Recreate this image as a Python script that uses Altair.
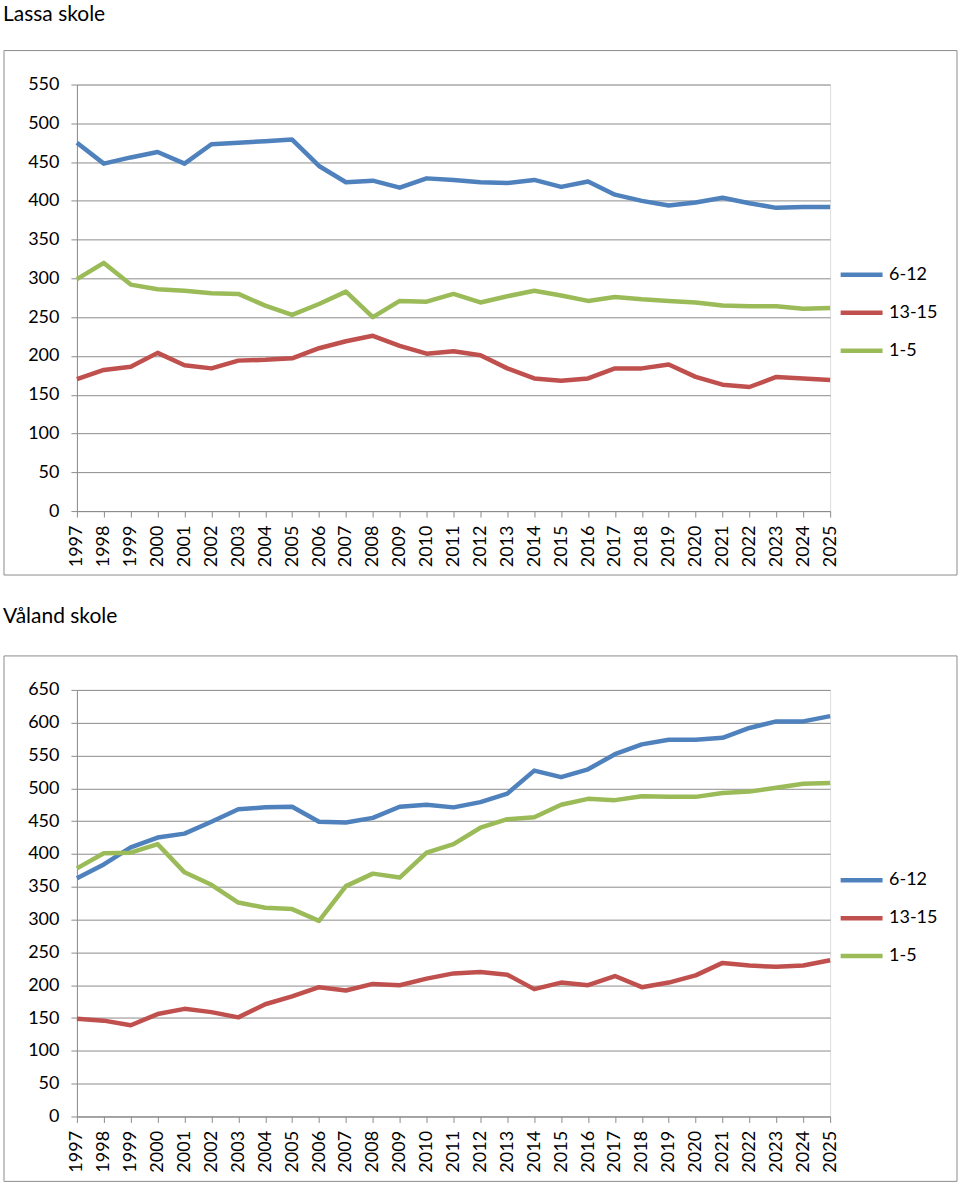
import altair as alt
import pandas as pd

years = list(range(1997, 2026))
series_names = ["6-12", "13-15", "1-5"]
colors = ["#4F81BD", "#C0504D", "#9BBB59"]

lassa_6_12 = [475, 448, 456, 463, 448, 473, 475, 477, 479, 445, 424, 426, 417, 429, 427, 424, 423, 427, 418, 425,
              408, 400, 394, 398, 404, 397, 391, 392, 392]
lassa_13_15 = [170, 182, 186, 204, 188, 184, 194, 195, 197, 210, 219, 226, 213, 203, 206, 201, 184, 171, 168, 171,
               184, 184, 189, 173, 163, 160, 173, 171, 169]
lassa_1_5 = [299, 320, 292, 286, 284, 281, 280, 265, 253, 267, 283, 250, 271, 270, 280, 269, 277, 284, 278, 271,
             276, 273, 271, 269, 265, 264, 264, 261, 262]

valand_6_12 = [363, 384, 410, 425, 431, 449, 468, 471, 472, 449, 448, 455, 472, 475, 471, 479, 492, 527, 517, 529,
               552, 567, 574, 574, 577, 592, 602, 602, 610]
valand_13_15 = [149, 146, 139, 156, 164, 159, 151, 171, 183, 197, 192, 202, 200, 210, 218, 220, 216, 194, 204, 200,
                214, 197, 204, 215, 234, 230, 228, 230, 238]
valand_1_5 = [378, 401, 402, 415, 372, 353, 326, 318, 316, 298, 351, 370, 364, 402, 415, 440, 453, 456, 475, 484,
              482, 488, 487, 487, 493, 495, 501, 507, 508]

FONT = "Lato"
GRID = "#8C8C8C"


def long_frame(s1, s2, s3):
    rows = []
    for name, vals in zip(series_names, [s1, s2, s3]):
        for y, v in zip(years, vals):
            rows.append({"year": str(y), "value": v, "series": name})
    return pd.DataFrame(rows)


def panel(title, df, ymax, title_y, border_bottom):
    one = pd.DataFrame({"a": [0]})
    lines = alt.Chart(df).mark_line(strokeWidth=4.5, strokeJoin="round", strokeCap="butt").encode(
        x=alt.X("year:O", sort=[str(y) for y in years],
                scale=alt.Scale(type="point", padding=0),
                axis=alt.Axis(title=None, labelAngle=270, labelFontSize=18, labelFont=FONT,
                              labelColor="black", tickSize=6, tickColor=GRID, domainColor=GRID,
                              labelPadding=8, grid=False)),
        y=alt.Y("value:Q", scale=alt.Scale(domain=[0, ymax], nice=False),
                axis=alt.Axis(title=None, values=list(range(0, ymax + 1, 50)), labelFontSize=18,
                              labelFont=FONT, labelColor="black", tickSize=6, tickColor=GRID,
                              domainColor=GRID, gridColor=GRID, gridWidth=1, labelPadding=12)),
        color=alt.Color("series:N", sort=series_names,
                        scale=alt.Scale(domain=series_names, range=colors),
                        legend=alt.Legend(title=None, orient="none", legendX=762, legendY=167,
                                          symbolType="stroke", symbolSize=1760, symbolStrokeWidth=4.5,
                                          labelFontSize=18, labelFont=FONT, labelColor="black",
                                          labelOffset=4, rowPadding=5)),
        order=alt.Order("series:N"),
    )
    border = alt.Chart(one).mark_rect(fill=None, stroke=GRID, strokeWidth=1).encode(
        x=alt.value(-73), x2=alt.value(881), y=alt.value(-34), y2=alt.value(border_bottom)
    )
    ttl = alt.Chart(one).mark_text(align="left", baseline="top", fontSize=21, font=FONT,
                                   color="black").encode(
        x=alt.value(-74), y=alt.value(title_y), text=alt.value(title)
    )
    return alt.layer(border, ttl, lines).properties(width=754, height=427)


top = panel("Lassa skole", long_frame(lassa_6_12, lassa_13_15, lassa_1_5), 550, -81, 491)
bottom = panel("Våland skole", long_frame(valand_6_12, valand_13_15, valand_1_5), 650, -84, 492)

chart = alt.vconcat(top, bottom, spacing=29).resolve_scale(
    color="independent"
).resolve_legend(
    color="independent"
).properties(
    padding={"left": 2, "top": 2, "right": 2, "bottom": 2}
).configure_view(stroke=None).configure(background="white")

chart.save("out.html", embed_options={"renderer": "svg", "actions": False})
